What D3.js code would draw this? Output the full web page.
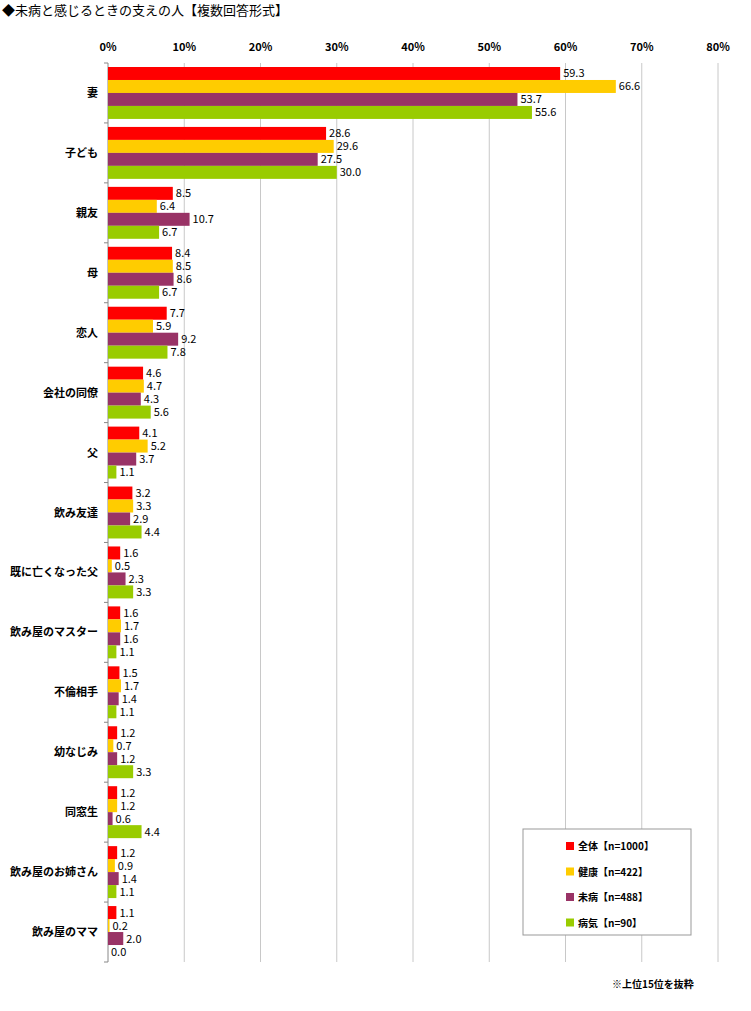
<!DOCTYPE html><html><head><meta charset="utf-8"><script src="https://cdn.jsdelivr.net/npm/d3@7"></script>
<style>body{margin:0;background:#fff}text{font-family:"Noto Sans CJK JP",sans-serif}</style></head><body>
<svg id="c" width="751" height="1011"></svg>
<script>
const categories=["妻","子ども","親友","母","恋人","会社の同僚","父","飲み友達","既に亡くなった父","飲み屋のマスター","不倫相手","幼なじみ","同窓生","飲み屋のお姉さん","飲み屋のママ"];
const seriesNames=["全体【n=1000】","健康【n=422】","未病【n=488】","病気【n=90】"];
const colors=["#ff0000","#ffcc00","#993366","#99cc00"];
const zentai=[59.3,28.6,8.5,8.4,7.7,4.6,4.1,3.2,1.6,1.6,1.5,1.2,1.2,1.2,1.1];
const kenko=[66.6,29.6,6.4,8.5,5.9,4.7,5.2,3.3,0.5,1.7,1.7,0.7,1.2,0.9,0.2];
const mibyo=[53.7,27.5,10.7,8.6,9.2,4.3,3.7,2.9,2.3,1.6,1.4,1.2,0.6,1.4,2.0];
const byoki=[55.6,30.0,6.7,6.7,7.8,5.6,1.1,4.4,3.3,1.1,1.1,3.3,4.4,1.1,0.0];
const ticks=[0,10,20,30,40,50,60,70,80];
const series=[zentai,kenko,mibyo,byoki];
const svg=d3.select("#c");
const L=108,R=718,T=63,B=962;
const x=d3.scaleLinear().domain([0,80]).range([L,R]);
const y=d3.scaleBand().domain(categories).range([T,B]);
const inner=d3.scaleBand().domain(d3.range(4)).range([4,y.bandwidth()-4]).padding(0);
svg.append("text").attr("x",2).attr("y",15).attr("font-size",13).text("◆未病と感じるときの支えの人【複数回答形式】");
ticks.forEach(t=>{svg.append("line").attr("x1",x(t)).attr("x2",x(t)).attr("y1",T).attr("y2",B).attr("stroke",t==0?"#888":"#c8c8c8");
svg.append("text").attr("x",x(t)).attr("y",51).attr("text-anchor","middle").attr("font-size",11).attr("font-weight","bold").attr("font-family","Liberation Sans").text(t+"%");});
categories.forEach((c,i)=>{
 const y0=y(c);
 svg.append("line").attr("x1",L-4).attr("x2",L).attr("y1",y0).attr("y2",y0).attr("stroke","#888");
 svg.append("text").attr("x",L-10).attr("y",y0+y.bandwidth()/2+4).attr("text-anchor","end").attr("font-size",11).attr("font-weight","bold").text(c);
 series.forEach((s,k)=>{
  svg.append("rect").attr("x",L).attr("y",y0+inner(k)).attr("width",x(s[i])-L).attr("height",inner.bandwidth()).attr("fill",colors[k]);
  svg.append("text").attr("x",x(s[i])+3).attr("y",y0+inner(k)+inner.bandwidth()/2+4).attr("font-size",11).attr("font-family","Liberation Sans").text(s[i].toFixed(1));
 });
});
svg.append("line").attr("x1",L-4).attr("x2",L).attr("y1",B).attr("y2",B).attr("stroke","#888");
const lg=svg.append("g");
lg.append("rect").attr("x",523).attr("y",829).attr("width",168).attr("height",106).attr("fill","#fff").attr("stroke","#999");
seriesNames.forEach((n,k)=>{
 const yy=842+k*25.5;
 lg.append("rect").attr("x",566).attr("y",yy).attr("width",8).attr("height",8).attr("fill",colors[k]);
 lg.append("text").attr("x",578).attr("y",yy+8).attr("font-size",10).attr("font-weight","bold").text(n);
});
svg.append("text").attr("x",612).attr("y",988).attr("font-size",10).attr("font-weight","bold").text("※上位15位を抜粋");
</script></body></html>
